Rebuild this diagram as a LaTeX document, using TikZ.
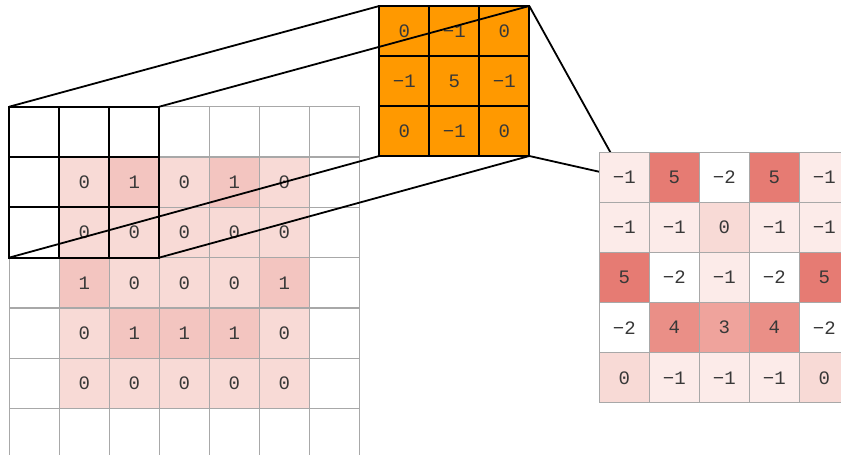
\documentclass[tikz,border=0pt]{standalone}
\usepackage{fontspec}
\setmonofont{Liberation Mono}
\usetikzlibrary{backgrounds}
\definecolor{gridgray}{HTML}{A8A8A8}
\definecolor{txt}{HTML}{383838}
\definecolor{inlight}{HTML}{F8DAD6}
\definecolor{indark}{HTML}{F3C5C0}
\definecolor{kern}{HTML}{FF9900}
\definecolor{ofive}{HTML}{E67B73}
\definecolor{ofour}{HTML}{EA8F87}
\definecolor{othree}{HTML}{EFA39C}
\definecolor{ozero}{HTML}{F8DAD6}
\definecolor{omone}{HTML}{FCEBE9}
\begin{document}
\begin{tikzpicture}[x=1pt,y=-1pt,
  cellbase/.style={rectangle, inner sep=0pt, outer sep=0pt, font=\ttfamily\fontsize{19}{19}\selectfont, text=txt},
  incell/.style={cellbase, draw=gridgray, line width=1.2pt, minimum width=50pt, minimum height=50.3pt},
  outcell/.style={cellbase, draw=gridgray, line width=1.2pt, minimum width=50pt, minimum height=50.1pt},
  kcell/.style={cellbase, draw=black, fill=kern, line width=2pt, minimum width=50pt, minimum height=50pt},
  vx/.style={fill=white, node contents={}},
  v0/.style={fill=inlight, node contents={0}},
  v1/.style={fill=indark, node contents={1}},
  km1/.style={node contents={−1}},
  k0/.style={node contents={0}},
  k5/.style={node contents={5}},
  om2/.style={fill=white, node contents={−2}},
  om1/.style={fill=omone, node contents={−1}},
  o0/.style={fill=ozero, node contents={0}},
  o3/.style={fill=othree, node contents={3}},
  o4/.style={fill=ofour, node contents={4}},
  o5/.style={fill=ofive, node contents={5}},
  boldline/.style={draw=black, line width=2pt},
  proj/.style={draw=black, line width=1.8pt},
  ]
\useasboundingbox (0,0) rectangle (841,455);
\clip (0,0) rectangle (841,455);

% input grid
\foreach \row [count=\r] in {{x,x,x,x,x,x,x},{x,0,1,0,1,0,x},{x,0,0,0,0,0,x},{x,1,0,0,0,1,x},{x,0,1,1,1,0,x},{x,0,0,0,0,0,x},{x,x,x,x,x,x,x}}{
  \foreach \v [count=\c] in \row {
    \node (in-\r-\c) at ({34.3+50*(\c-1)}, {131.85+50.3*(\r-1)}) [incell, v\v];
  }
}
% bold window
\foreach \r in {1,2,3}{
  \foreach \c in {1,2,3}{
    \draw[boldline] (in-\r-\c.north west) rectangle (in-\r-\c.south east);
  }
}

% kernel
\foreach \row [count=\r] in {{0,m1,0},{m1,5,m1},{0,m1,0}}{
  \foreach \v [count=\c] in \row {
    \node (k-\r-\c) at ({404.3+50*(\c-1)}, {31+50*(\r-1)}) [kcell, k\v];
  }
}

% output grid
\foreach \row [count=\r] in {{m1,5,m2,5,m1},{m1,m1,0,m1,m1},{5,m2,m1,m2,5},{m2,4,3,4,m2},{0,m1,m1,m1,0}}{
  \foreach \v [count=\c] in \row {
    \node (out-\r-\c) at ({624.3+50*(\c-1)}, {177.4+50.1*(\r-1)}) [outcell, o\v];
  }
}

% kernel to output (under the output cells)
\begin{pgfonlayer}{background}
\draw[proj] (k-1-3.north east) -- (out-1-1.center);
\draw[proj] (k-3-3.south east) -- (out-1-1.center);
\end{pgfonlayer}

% window to kernel
\draw[proj] (in-1-1.north west) -- (k-1-1.north west);
\draw[proj] (in-1-3.north east) -- (k-1-3.north east);
\draw[proj] (in-3-1.south west) -- (k-3-1.south west);
\draw[proj] (in-3-3.south east) -- (k-3-3.south east);
\end{tikzpicture}
\end{document}
